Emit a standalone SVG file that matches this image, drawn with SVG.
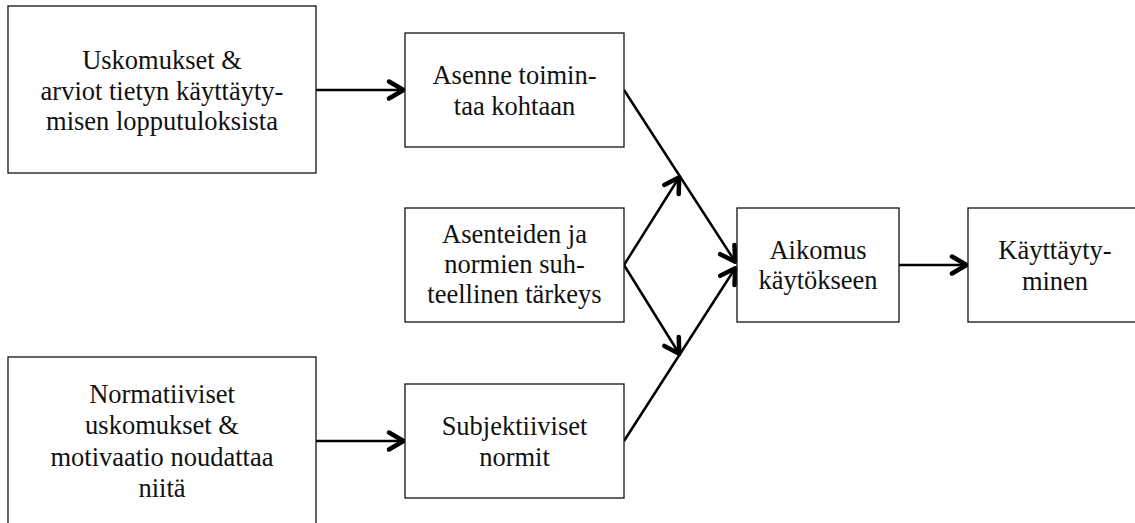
<svg xmlns="http://www.w3.org/2000/svg" width="1135" height="523" viewBox="0 0 1135 523">
<style>
.box{fill:#fff;stroke:#111;stroke-width:1.3}
.t{font-family:'Liberation Serif','Tinos','DejaVu Serif',serif;font-size:26.5px;fill:#111;text-anchor:middle}
.c{fill:none;stroke:#000;stroke-width:2.5}
</style>
<defs>
<marker id="ah" markerUnits="userSpaceOnUse" viewBox="-22 -14 26 28" markerWidth="26" markerHeight="28" refX="0" refY="0" orient="auto">
<path d="M -16 -8.5 L -1.5 0 L -16 8.5" fill="none" stroke="#000" stroke-width="4.5" stroke-linecap="round" stroke-linejoin="round"/>
</marker>
</defs>
<rect width="1135" height="523" fill="#fff"/>
<g id="connectors">
<line class="c" x1="316" y1="90" x2="405" y2="90" marker-end="url(#ah)"/>
<line class="c" x1="316" y1="441" x2="405" y2="441" marker-end="url(#ah)"/>
<line class="c" x1="624" y1="90" x2="736" y2="263" marker-end="url(#ah)"/>
<line class="c" x1="624" y1="265" x2="680" y2="176" marker-end="url(#ah)"/>
<line class="c" x1="624" y1="265" x2="680" y2="355" marker-end="url(#ah)"/>
<line class="c" x1="624" y1="441" x2="736" y2="267" marker-end="url(#ah)"/>
<line class="c" x1="899" y1="265" x2="968" y2="265" marker-end="url(#ah)"/>
</g>
<g id="n-uskomukset">
<rect class="box" x="8" y="6" width="308" height="167"/>
<text class="t" x="162" y="69">Uskomukset &amp;</text>
<text class="t" x="162" y="99.5">arviot tietyn käyttäyty-</text>
<text class="t" x="162" y="130">misen lopputuloksista</text>
</g>
<g id="n-normatiiviset">
<rect class="box" x="8" y="357" width="308" height="170"/>
<text class="t" x="162" y="403">Normatiiviset</text>
<text class="t" x="162" y="434">uskomukset &amp;</text>
<text class="t" x="162" y="466">motivaatio noudattaa</text>
<text class="t" x="162" y="497">niitä</text>
</g>
<g id="n-asenne">
<rect class="box" x="405" y="33" width="219" height="114"/>
<text class="t" x="514.5" y="84">Asenne toimin-</text>
<text class="t" x="514.5" y="115">taa kohtaan</text>
</g>
<g id="n-asenteiden">
<rect class="box" x="405" y="208" width="219" height="114"/>
<text class="t" x="514.5" y="243">Asenteiden ja</text>
<text class="t" x="514.5" y="273">normien suh-</text>
<text class="t" x="514.5" y="303">teellinen tärkeys</text>
</g>
<g id="n-subjektiiviset">
<rect class="box" x="405" y="384" width="219" height="114"/>
<text class="t" x="514.5" y="435">Subjektiiviset</text>
<text class="t" x="514.5" y="466">normit</text>
</g>
<g id="n-aikomus">
<rect class="box" x="737" y="208" width="162" height="114"/>
<text class="t" x="818" y="259">Aikomus</text>
<text class="t" x="818" y="289">käytökseen</text>
</g>
<g id="n-kayttaytyminen">
<rect class="box" x="968" y="208" width="174" height="114"/>
<text class="t" x="1055" y="259">Käyttäyty-</text>
<text class="t" x="1055" y="290">minen</text>
</g>
</svg>
